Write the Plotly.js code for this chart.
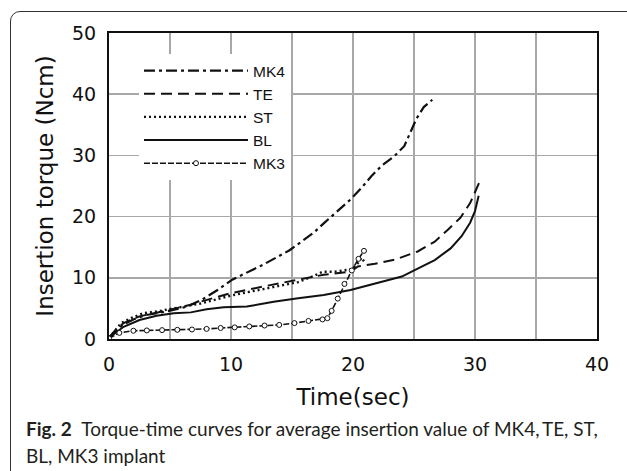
<!DOCTYPE html>
<html>
<head>
<meta charset="utf-8">
<script src="https://cdn.plot.ly/plotly-3.0.1.min.js"></script>
<style>
  html, body { margin: 0; padding: 0; background: #ffffff; }
  #frame { position: absolute; left: 10px; top: 11px; width: 700px; height: 600px;
           border: 1px solid #333; border-top-left-radius: 10px; box-sizing: border-box; }
  #chart { position: absolute; left: 0; top: 0; width: 627px; height: 471px; z-index: 1; }
</style>
</head>
<body>
<div id="frame"></div>
<div id="chart"></div>
<script>
// ---- data ----
var seriesNames = ["MK4", "TE", "ST", "BL", "MK3"];

var mk4X = [0, 0.5, 1.2, 2.0, 3.0, 4.75, 6.4, 7.6, 8.9, 10.1, 11.3, 12.6, 14.8, 16.8, 17.6, 18.7, 19.8, 20.7, 21.5, 22.4, 23.4, 24.2, 24.7, 25.2, 25.8, 26.5];
var mk4Y = [0.3, 1.2, 2.4, 3.2, 3.9, 4.5, 5.3, 6.4, 8.0, 9.7, 10.9, 12.1, 14.5, 17.4, 18.9, 20.9, 22.8, 24.7, 26.6, 28.4, 29.9, 31.5, 33.7, 36.0, 37.9, 39.1];

var teX = [0, 0.5, 1.2, 2.5, 3.9, 5.3, 6.7, 7.5, 10.0, 12.7, 15.5, 17.6, 19.8, 20.4, 21.8, 23.5, 25.3, 26.7, 27.8, 28.8, 29.6, 30.4];
var teY = [0.2, 1.4, 2.6, 3.7, 4.3, 4.9, 5.6, 6.1, 7.5, 8.6, 9.7, 10.5, 11.0, 11.85, 12.3, 13.0, 14.3, 15.9, 17.9, 19.8, 22.2, 25.8];

var stX = [0, 0.5, 1.0, 1.8, 2.8, 4.2, 5.6, 7.5, 10.0, 12.7, 15.5, 16.8, 17.5, 18.5, 19.9, 20.4, 20.7, 20.9];
var stY = [0.2, 1.5, 2.6, 3.4, 4.2, 4.6, 5.1, 5.8, 7.1, 8.2, 9.3, 10.3, 11.0, 11.0, 11.4, 12.4, 13.3, 12.7];

var blX = [0, 0.5, 1.2, 2.5, 3.9, 5.3, 6.7, 8.0, 9.4, 11.3, 13.5, 15.5, 17.6, 19.8, 22.6, 24.0, 25.3, 26.7, 28.0, 28.9, 29.6, 30.0, 30.3];
var blY = [0.2, 1.0, 2.0, 3.1, 3.8, 4.2, 4.35, 4.85, 5.2, 5.3, 6.1, 6.65, 7.2, 8.0, 9.4, 10.2, 11.5, 12.9, 14.8, 16.8, 19.0, 20.9, 23.4];

var mk3X = [0, 0.85, 2.0, 3.1, 4.35, 5.6, 6.8, 8.0, 9.15, 10.3, 11.5, 12.75, 13.95, 15.2, 16.35, 17.5, 17.9, 18.25, 18.75, 19.3, 19.9, 20.45, 20.9];
var mk3Y = [0.1, 1.0, 1.35, 1.4, 1.45, 1.5, 1.55, 1.65, 1.8, 1.9, 2.05, 2.2, 2.3, 2.6, 2.95, 3.2, 3.4, 4.6, 6.6, 9.0, 11.2, 13.1, 14.4];

var xTickVals = [0, 5, 10, 15, 20, 25, 30, 35, 40];
var xTickText = ["0", "", "10", "", "20", "", "30", "", "40"];
var yTickVals = [0, 10, 20, 30, 40, 50];
var yTickText = ["0", "10", "20", "30", "40", "50"];

var xTitle = "Time(sec)";
var yTitle = "Insertion torque (Ncm)";
var captionLine1 = "<b>Fig. 2</b>\u2002Torque-time curves for average insertion value of MK4,\u2009TE, ST,";
var captionLine2 = "BL, MK3 implant";

// ---- layout geometry ----
var W = 627, H = 471;
var M = { l: 109, r: 30, t: 33, b: 132 };
var PW = W - M.l - M.r, PH = H - M.t - M.b;
function pxX(px) { return (px - M.l) / PW; }
function pxY(py) { return (M.t + PH - py) / PH; }

var ink = "#111111";

var traces = [
  { name: seriesNames[0], x: mk4X, y: mk4Y, mode: "lines", type: "scatter",
    line: { color: ink, width: 2.2, dash: "11px,4px,3px,4px" } },
  { name: seriesNames[1], x: teX, y: teY, mode: "lines", type: "scatter",
    line: { color: ink, width: 2, dash: "11px,6px" } },
  { name: seriesNames[2], x: stX, y: stY, mode: "lines", type: "scatter",
    line: { color: ink, width: 2.4, dash: "2px,3px" } },
  { name: seriesNames[3], x: blX, y: blY, mode: "lines", type: "scatter",
    line: { color: ink, width: 2 } },
  { name: seriesNames[4], x: mk3X, y: mk3Y, mode: "lines+markers", type: "scatter",
    line: { color: ink, width: 1.6, dash: "6px,2px" },
    marker: { symbol: "circle", size: 5, color: "#ffffff", line: { color: ink, width: 1 } } }
];

var tickFont = { family: "DejaVu Sans, Verdana, sans-serif", size: 19, color: ink };
var titleFont = { family: "DejaVu Sans, Verdana, sans-serif", size: 23, color: ink };
var capFont = { family: "Lato, 'Open Sans', sans-serif", size: 19, color: "#231f20" };

var layout = {
  width: W, height: H,
  margin: { l: M.l, r: M.r, t: M.t, b: M.b, pad: 0 },
  paper_bgcolor: "rgba(0,0,0,0)",
  plot_bgcolor: "#ffffff",
  showlegend: true,
  legend: {
    x: pxX(139), y: pxY(54), xanchor: "left", yanchor: "top",
    bgcolor: "#ffffff", borderwidth: 0,
    font: { family: "Liberation Sans, Arial, sans-serif", size: 15.5, color: ink },
    itemwidth: 104, tracegroupgap: 0, traceorder: "normal"
  },
  xaxis: {
    range: [0, 40], tickmode: "array", tickvals: xTickVals, ticktext: xTickText,
    showline: true, linecolor: ink, linewidth: 2, mirror: true,
    showgrid: true, gridcolor: "#a8a8a8", gridwidth: 1.5, zeroline: false,
    ticks: "outside", ticklen: 7, tickcolor: "rgba(0,0,0,0)",
    tickfont: tickFont, automargin: false,
    title: { text: xTitle, font: titleFont, standoff: 15 }
  },
  yaxis: {
    range: [0, 50], tickmode: "array", tickvals: yTickVals, ticktext: yTickText,
    showline: true, linecolor: ink, linewidth: 2, mirror: true,
    showgrid: true, gridcolor: "#a8a8a8", gridwidth: 1.5, zeroline: false,
    ticks: "outside", ticklen: 7, tickcolor: "rgba(0,0,0,0)",
    tickfont: tickFont, automargin: false,
    title: { text: yTitle, font: titleFont, standoff: 12 }
  },
  annotations: [
    { xref: "paper", yref: "paper", x: pxX(24), y: pxY(428), xanchor: "left", yanchor: "middle",
      text: captionLine1, showarrow: false, font: capFont },
    { xref: "paper", yref: "paper", x: pxX(24), y: pxY(455), xanchor: "left", yanchor: "middle",
      text: captionLine2, showarrow: false, font: capFont }
  ]
};

Plotly.newPlot("chart", traces, layout, { displayModeBar: false, staticPlot: true });
</script>
</body>
</html>
